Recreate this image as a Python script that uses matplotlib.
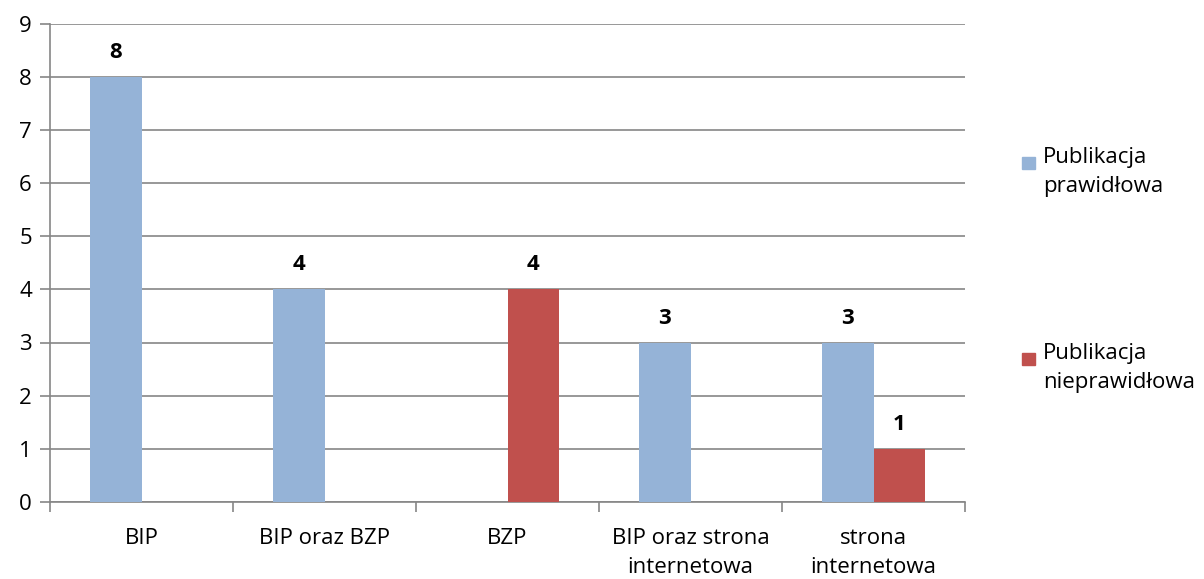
import matplotlib.pyplot as plt
from matplotlib.patches import Rectangle
import numpy as np

categories = ['BIP', 'BIP oraz BZP', 'BZP', 'BIP oraz strona\ninternetowa', 'strona\ninternetowa']
prawidlowa = [8, 4, 0, 3, 3]
nieprawidlowa = [0, 0, 4, 0, 1]
series_names = ['Publikacja\nprawidłowa', 'Publikacja\nnieprawidłowa']
colors = ['#95B3D7', '#C0504D']

plt.rcParams['font.family'] = ['Open Sans', 'DejaVu Sans']
grid_color = '#868686'
fs = 16

fig = plt.figure(figsize=(12.04, 5.79), dpi=100)
ax = fig.add_axes([50 / 1204, 1 - 502 / 579, 915 / 1204, (502 - 23.5) / 579])

x = np.arange(len(categories))
w = 0.284
for vals, off, col in [(prawidlowa, -w / 2, colors[0]), (nieprawidlowa, w / 2, colors[1])]:
    for xi, v in zip(x, vals):
        if v == 0:
            continue
        ax.bar(xi + off, v, width=w, color=col, zorder=3)
        ax.annotate(str(v), (xi + off, v), xytext=(0, 10), textcoords='offset points',
                    ha='center', va='bottom', fontsize=fs, fontweight='bold')

ax.set_xlim(-0.5, len(categories) - 0.5)
ax.set_ylim(0, 9)
ax.set_yticks(range(10))
ax.yaxis.grid(True, color=grid_color, linewidth=1.2, zorder=0)
ax.tick_params(axis='y', length=7, color=grid_color, labelsize=fs, pad=6, width=1.2)

# category separators as ticks, labels as minor ticks
ax.set_xticks(np.arange(-0.5, len(categories)))
ax.set_xticklabels([])
ax.set_xticks(x, minor=True)
ax.set_xticklabels(categories, minor=True, fontsize=fs, linespacing=1.5)
ax.tick_params(axis='x', which='major', length=7, color=grid_color, width=1.2)
ax.tick_params(axis='x', which='minor', length=0, pad=19)

for s in ['top', 'right']:
    ax.spines[s].set_visible(False)
for s in ['left', 'bottom']:
    ax.spines[s].set_color(grid_color)
    ax.spines[s].set_linewidth(1.2)

# legend
legend_y = [169, 365]
for name, col, ly in zip(series_names, colors, legend_y):
    fig.add_artist(Rectangle((1022 / 1204, 1 - ly / 579), 13 / 1204, 12 / 579,
                             transform=fig.transFigure, color=col))
    fig.text(1043 / 1204, 1 - (ly - 22) / 579, name, fontsize=fs, va='top',
             ha='left', linespacing=1.5)

fig.savefig('out.png', dpi=100)
